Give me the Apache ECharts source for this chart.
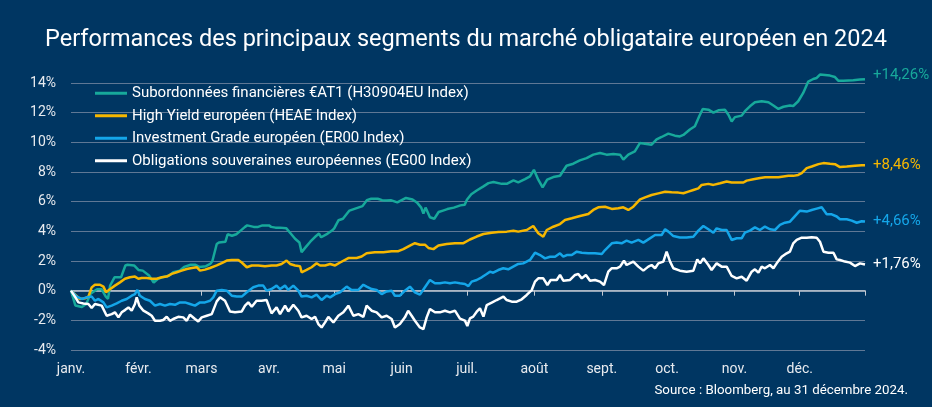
<!DOCTYPE html>
<html><head><meta charset="utf-8">
<script src="https://cdn.jsdelivr.net/npm/echarts@6/dist/echarts.min.js"></script>
<style>html,body{margin:0;padding:0;background:#003662;}#c{width:932px;height:407px;}</style>
</head><body><div id="c"></div>
<script>
const monthLabels = ['janv.','févr.','mars','avr.','mai','juin','juil.','août','sept.','oct.','nov.','déc.'];
const monthStartDays = [0,31,60,91,121,152,182,213,244,274,305,335];
const yearEndDay = 365;
const seriesNames = [
  'Subordonnées financières €AT1 (H30904EU Index)',
  'High Yield européen (HEAE Index)',
  'Investment Grade européen (ER00 Index)',
  'Obligations souveraines européennes (EG00 Index)'
];
const at1Days = [0,2,5,7,9,12,14,16,17,18,20,23,25,26,29,31,33,36,38,40,42,45,47,50,52,55,57,59,62,64,65,67,68,71,72,74,76,78,80,81,84,86,88,91,92,94,96,99,101,103,105,106,108,110,112,114,115,118,120,121,123,125,128,130,132,134,136,138,141,143,145,147,150,152,154,157,159,161,162,163,165,167,169,171,173,176,179,181,182,184,186.5,189.6,191.9,194.2,198,200.3,203.4,205.6,208.7,211,212.8,214.8,216.8,218.9,221.7,224.8,227.8,230.9,233.9,237,240.1,243.2,246.2,249.3,252.4,253.9,256.2,259.2,261.5,263.8,266.9,269.2,271.5,274.6,277.6,279.9,281.5,284.5,286.8,288.8,290.4,293,295.3,297.6,300.6,302.2,303.7,305.2,308.3,309.8,312.1,314.4,317.5,320.6,322.9,325.2,327.5,330.5,332,334.3,336.6,338.9,341.2,342.8,344.3,346.6,348.9,351.2,352.7,355,359.6,362.7,365];
const at1Vals = [0,-1.0,-1.1,-0.9,-0.2,0.1,0.1,-0.4,-0.55,0.35,0.9,0.9,1.7,1.75,1.7,1.4,1.35,1.0,0.55,0.8,0.9,1.0,1.25,1.35,1.6,1.75,1.75,1.6,1.65,1.8,2.0,3.15,3.25,3.3,3.8,3.7,3.8,4.05,4.3,4.4,4.3,4.3,4.4,4.4,4.3,4.25,4.25,4.2,3.85,3.5,3.25,2.6,2.95,3.3,3.6,3.85,3.6,3.85,4.05,4.2,4.75,4.85,5.4,5.5,5.6,5.7,6.1,6.2,6.2,6.1,6.08,6.1,5.95,6.1,6.25,6.15,5.95,5.6,5.2,5.6,4.95,4.85,5.3,5.4,5.5,5.6,5.75,5.79,6.13,6.5,6.75,7.03,7.25,7.32,7.2,7.2,7.43,7.3,7.52,7.7,8.15,7.48,6.96,7.48,7.66,7.75,8.42,8.56,8.78,8.94,9.17,9.28,9.17,9.21,9.17,8.83,9.17,9.39,9.95,9.91,9.84,10.2,10.36,10.59,10.45,10.4,10.5,10.86,11.08,11.76,12.25,12.2,12.0,12.16,12.2,11.86,11.4,11.7,11.8,12.1,12.43,12.7,12.77,12.7,12.48,12.25,12.4,12.48,12.45,12.77,13.33,14.1,14.27,14.34,14.57,14.54,14.5,14.4,14.16,14.16,14.18,14.23,14.26];
const hyDays = [0,4,6.4,8,9.5,11,13.3,14.9,16.1,17.9,20.2,22.5,24.8,27.1,29.4,31,32.5,34.8,37.1,39.4,41.7,44,46.3,48.6,50.9,53.2,55.5,57.8,59.3,61.6,63.9,67,69.3,71.6,73.9,76.9,78.5,80.8,83.1,86.1,89.2,92.2,94.5,96.8,99.1,100.7,103,105.3,106,108.3,110.6,112.9,114.5,116.8,119.1,121.4,123.7,127.5,131.3,133.6,135.9,139.7,143.6,147.4,150.5,152.8,155.8,158.1,160.4,162.7,164.3,166.6,168.9,172.7,176.5,180.4,183.4,186.5,189.6,193.4,196.5,200.3,203.4,205.6,209.5,212.5,214.8,217.1,218.7,221.7,224.8,227.1,230.2,234,237.8,240.1,242.4,245.5,248.6,251.6,253.9,256.2,258.5,261.6,263.9,266.9,270,273.1,276.1,279.2,281.5,283.8,286.1,288.4,289.9,293,295.3,298.4,301.4,303.7,306.8,309.1,310.6,313.7,316.8,319.1,322.1,325.2,327.5,329.8,332,334.3,335.9,338.2,340.5,343.6,345.9,348.9,351.2,353.5,356.6,360.4,363.5,365];
const hyVals = [0,-0.56,-0.52,-0.4,0.22,0.4,0.4,0.27,-0.1,0.1,0.34,0.56,0.8,0.9,0.95,0.8,0.85,0.85,0.8,0.8,0.9,0.95,1.13,1.24,1.35,1.46,1.53,1.58,1.35,1.42,1.53,1.7,1.85,2.03,2.07,2.07,1.9,1.58,1.7,1.7,1.64,1.7,1.7,1.8,2.03,1.8,1.7,1.65,1.24,1.4,1.58,1.85,1.7,1.7,1.8,1.7,1.9,2.2,2.2,2.3,2.52,2.59,2.59,2.66,2.66,2.8,3.04,3.2,3.1,3.1,2.88,2.8,3.04,3.15,3.2,3.2,3.45,3.65,3.82,3.91,3.96,3.98,4.04,3.98,4.09,4.36,3.87,3.64,4.09,4.31,4.49,4.76,4.88,5.03,5.17,5.44,5.62,5.66,5.51,5.55,5.62,5.44,5.66,6.16,6.29,6.45,6.56,6.67,6.63,6.61,6.57,6.68,6.79,6.9,7.13,7.2,7.13,7.24,7.36,7.29,7.29,7.29,7.42,7.51,7.6,7.65,7.65,7.65,7.7,7.74,7.74,7.8,7.92,8.26,8.37,8.53,8.6,8.55,8.53,8.33,8.37,8.42,8.46,8.46];
const igDays = [0,2.6,4.9,7.2,9.5,11,12.6,14.9,16.4,18.7,21,23.3,25.6,27.9,29.4,30.5,31.7,34,36.3,38.6,40.9,43.2,45.5,47.8,50.1,52.4,54.7,57,59.3,61.6,63.9,65.4,67,69.3,71.6,73.9,76.2,78.5,80.8,83.8,86.1,88.4,89.9,92.2,94.5,96.1,98.4,99.9,102.2,104.5,106,108.3,110.6,112.9,115.2,117.5,119.1,121.4,123.7,126.7,129,132.1,134.4,135.9,138.2,140.5,142.8,145.1,147.4,148.9,151.2,153.5,155.8,158.1,160.4,162.7,165,167.3,169.6,171.9,174.2,176.5,178.8,181.1,182.7,184.2,186.5,188.8,191.1,192.6,194.1,196.4,198.7,201,203.3,205.6,207.9,211,213.3,215.6,217.9,220.2,222.5,224.8,226.3,227.9,230.2,232.5,234.8,237.8,240.9,244,245.5,248.6,250.8,253.1,255.4,257.7,260.8,263.1,265.4,268.5,271.5,273.1,274.6,276.9,279.9,283,286.1,288.4,290.7,293,295.3,296.8,299.1,301.4,303.7,306,308.3,309.8,312.1,314.4,316.7,319,321.3,323.6,325.9,328.2,330.5,332.8,335.1,338.2,340.5,342.8,345.1,347.4,349.7,352,353.5,356.6,358.9,361.2,363.5,365];
const igVals = [0,-0.4,-0.56,-0.45,-0.4,-0.68,-0.56,-0.79,-1.13,-1.01,-0.86,-0.68,-0.56,-0.34,-0.23,0.05,-0.34,-0.56,-0.68,-1.01,-0.9,-1.01,-0.9,-0.95,-0.79,-0.79,-0.9,-1.01,-0.79,-0.79,-0.68,-0.45,0,0.05,0,-0.34,-0.4,-0.4,-0.11,0.23,0.34,0.34,0,0.11,0.34,0.11,0.34,0.05,0.34,0,-0.4,-0.34,-0.45,-0.27,-0.63,-0.34,-0.45,-0.23,-0.11,0.27,0.05,0.05,0.4,0.27,0.11,0.05,-0.23,-0.05,0,-0.34,-0.34,0,0.27,-0.11,-0.27,0.23,0.72,0.5,0.5,0.56,0.5,0.56,0.5,0.45,0.31,0.61,0.72,0.9,1.12,1.28,1.21,1.39,1.51,1.44,1.62,1.8,1.84,2.07,2.56,2.4,2.18,2.29,2.29,2.52,2.29,2.4,2.4,2.63,2.56,2.52,2.52,2.47,2.74,3.19,3.24,3.19,3.37,3.24,3.42,3.24,3.46,3.75,3.75,4.14,3.98,3.68,3.59,3.59,3.64,4.05,4.36,4.14,3.91,4.2,4.09,4.09,3.42,3.53,3.53,3.91,4.05,4.27,4.09,4.32,4.14,4.09,4.43,4.58,4.65,5.03,5.39,5.33,5.44,5.53,5.62,5.15,5.15,5.0,4.81,4.81,4.72,4.58,4.68,4.66];
const sovDays = [0,1.8,3.4,5.7,8,9.5,11,11.8,14.1,16.4,18.7,20.2,21.8,23.3,24.8,26.4,27.9,29.4,30.2,31.4,33.3,35.5,37.1,38.6,40.9,42.4,44,45.5,47,49.3,51.6,53.2,54.7,57,58.5,60.1,62.4,64.7,67,68.5,70.8,73.1,75.4,78.5,80,81.5,83.1,85.3,87.6,89.9,92.2,94.5,96.1,98.4,99.9,102.2,104.5,106,108.3,110.6,112.2,113.7,115.2,116.8,118.3,120.6,122.9,125.2,127.5,129.8,132.1,134.4,135.9,138.2,140.5,142.8,145.1,147.4,148.9,151.2,153.5,155,156.6,158.1,160.4,162,163.5,165,167.3,169.6,171.9,174.2,176.5,178.8,181.1,182.2,183.4,184.9,186.5,188,189.6,191.1,193.4,195.7,197.2,198.8,200.3,202.6,204.9,207.2,209.5,211.8,213.3,214.8,217.1,219,220.5,223.3,224.8,226.3,229.4,231.7,233.2,234.8,236.7,238.6,240.9,243.2,245,247,248.5,250.8,252.4,254.2,255.4,258.5,260.8,263.1,265.4,266.9,268.5,270,272.3,273.8,275.4,276.9,279.9,283,286.1,287.9,289.2,290.7,293,294.5,296.8,299.1,301.4,303.7,306,308.3,310.6,312.9,314.4,316,317.5,319,321.3,322.9,324.4,326.7,329,330.5,332,333.6,335.9,338.2,340.5,342.8,344.3,345.9,348.2,350.5,352,353.5,355.8,358.1,360.4,362.7,365];
const sovVals = [0,-0.4,-0.79,-0.86,-0.9,-1.17,-0.9,-0.79,-1.01,-1.69,-1.58,-1.46,-1.8,-1.46,-1.31,-1.13,-1.35,-0.9,-0.45,-1.01,-1.35,-1.53,-1.69,-2.03,-2.03,-1.98,-1.76,-2.03,-1.91,-1.76,-1.8,-2.03,-1.62,-1.91,-2.07,-1.8,-1.69,-1.58,-0.72,-0.45,-0.68,-1.4,-1.46,-1.4,-1.01,-0.79,-1.08,-0.68,-0.68,-0.63,-1.53,-1.13,-1.58,-1.01,-1.4,-0.95,-1.35,-1.8,-1.69,-1.91,-1.76,-2.25,-2.48,-2.14,-1.76,-2.14,-1.69,-1.46,-1.01,-1.69,-1.58,-1.76,-1.01,-1.35,-1.46,-1.8,-1.69,-1.91,-2.48,-2.25,-1.8,-1.35,-1.69,-2.03,-2.48,-2.59,-1.8,-1.24,-1.46,-1.46,-1.35,-1.46,-1.35,-1.89,-2.02,-2.38,-1.87,-1.75,-1.42,-1.19,-1.75,-0.97,-0.81,-0.63,-0.52,-0.4,-0.63,-0.74,-0.74,-0.58,-0.29,0.04,0.61,0.83,0.83,0.38,0.72,0.72,1.06,0.67,0.72,1.06,1.12,0.83,1.06,0.67,0.72,0.61,0.38,1.28,1.51,1.51,1.62,2.02,1.73,1.96,1.62,1.35,1.62,1.73,1.51,1.84,1.96,2.63,1.96,1.51,1.35,1.28,1.35,2.11,1.84,2.18,1.73,1.39,1.84,1.62,1.62,0.99,0.83,0.94,0.67,1.28,1.44,1.21,1.62,1.51,1.73,1.51,1.84,2.29,2.52,2.63,3.19,3.42,3.57,3.57,3.6,3.57,3.3,2.63,2.56,2.56,2.11,2.07,1.96,1.89,1.66,1.84,1.76];

const colors = ['#17a99b','#f6b700','#14a6e9','#ffffff'];
const dayLists = [at1Days, hyDays, igDays, sovDays];
const valLists = [at1Vals, hyVals, igVals, sovVals];
const fmtEnd = v => '+' + v.toFixed(2).replace('.', ',') + '%';

const chart = echarts.init(document.getElementById('c'), null, {renderer:'canvas'});
const font = 'Roboto, "Noto Sans", sans-serif';
chart.setOption({
  backgroundColor: '#003662',
  animation: false,
  textStyle: {fontFamily: font},
  title: {
    text: 'Performances des principaux segments du marché obligataire européen en 2024',
    left: 'center', top: 23,
    textStyle: {color: '#ffffff', fontSize: 23.5, fontWeight: 'normal', fontFamily: font}
  },
  legend: {
    orient: 'vertical', left: 90, top: 80,
    itemWidth: 32, itemHeight: 3, itemGap: 6, padding: 5,
    icon: 'rect',
    textStyle: {color: '#ffffff', fontSize: 15, lineHeight: 16.5, fontFamily: font},
    data: seriesNames
  },
  grid: {left: 71, right: 67, top: 83, bottom: 57, containLabel: false},
  xAxis: [{
    type: 'value', min: 0, max: yearEndDay,
    axisLine: {show: false, onZero: false},
    axisTick: {show: false},
    splitLine: {show: false},
    axisLabel: {
      color: '#e8ebef', fontSize: 14, margin: 12,
      customValues: monthStartDays,
      formatter: v => monthLabels[monthStartDays.indexOf(v)] || ''
    }
  }, {
    type: 'value', min: 0, max: yearEndDay, position: 'bottom',
    axisLine: {show: true, onZero: true, lineStyle: {color: '#c4cad3', width: 1.5}},
    axisTick: {show: true, length: 5, lineStyle: {color: '#c4cad3', width: 1}, customValues: monthStartDays.concat([yearEndDay])},
    axisLabel: {show: false},
    splitLine: {show: false}
  }],
  yAxis: {
    type: 'value', min: -4, max: 14, interval: 2,
    axisLine: {show: false}, axisTick: {show: false},
    axisLabel: {color: '#e8ebef', fontSize: 14, margin: 15, formatter: v => v + '%'},
    splitLine: {lineStyle: {color: '#5f7895', width: 1}}
  },
  series: seriesNames.map((name, i) => ({
    name, type: 'line', xAxisIndex: 0,
    data: dayLists[i].map((d, j) => [d, valLists[i][j]]),
    showSymbol: false, clip: false,
    color: colors[i],
    lineStyle: {width: 2.5, color: colors[i]},
    endLabel: {
      show: true, color: colors[i], fontSize: 15, distance: 8, fontFamily: font,
      offset: i === 0 ? [0, -4] : [0, 0],
      formatter: p => fmtEnd(p.value[1])
    }
  })),
  graphic: [{
    type: 'text', right: 24, top: 384,
    style: {text: 'Source : Bloomberg, au 31 décembre 2024.', fill: '#ffffff', fontSize: 13.3, fontFamily: font}
  }]
});
</script></body></html>
